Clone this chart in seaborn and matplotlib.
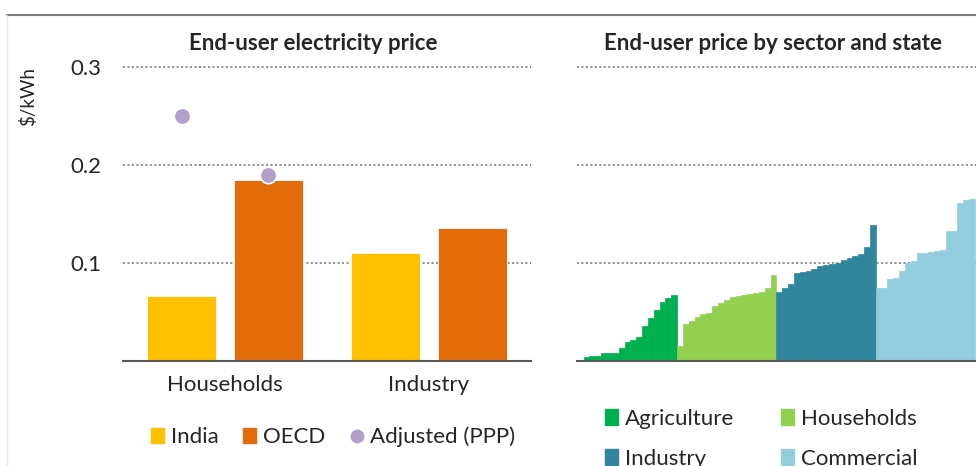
import numpy as np
import pandas as pd
import matplotlib.pyplot as plt
from matplotlib.lines import Line2D
from matplotlib.patches import Patch
import seaborn as sns

# ----------------------------
# DATA
# ----------------------------
sectors = ['Households', 'Industry']
india_price = [0.066, 0.110]
oecd_price = [0.185, 0.136]
ppp_households = [0.25, 0.19]  # India, OECD - households only
y_ticks = [0.1, 0.2, 0.3]

# end-user price by state, sorted within each sector
agriculture = [0.001, 0.004, 0.005, 0.005, 0.008, 0.008, 0.008, 0.013, 0.019,
               0.021, 0.024, 0.036, 0.044, 0.052, 0.060, 0.064, 0.067]
households = [0.015, 0.038, 0.041, 0.045, 0.048, 0.049, 0.056, 0.059, 0.062,
              0.065, 0.066, 0.067, 0.068, 0.069, 0.070, 0.075, 0.088]
industry = [0.070, 0.075, 0.079, 0.090, 0.091, 0.092, 0.094, 0.097, 0.098,
            0.099, 0.100, 0.103, 0.105, 0.107, 0.109, 0.116, 0.139]
commercial = [0.075, 0.075, 0.084, 0.085, 0.092, 0.100, 0.102, 0.110, 0.110,
              0.111, 0.112, 0.113, 0.133, 0.133, 0.161, 0.164, 0.165]
state_sectors = ['Agriculture', 'Households', 'Industry', 'Commercial']

# colours
c_india, c_oecd, c_ppp = '#FFC000', '#E36C0A', '#B1A0C7'
sector_colors = ['#00B050', '#92D050', '#31859C', '#93CDDD']
grid_kw = dict(color='#8c8c8c', linestyle=(0, (1, 1.3)), linewidth=1.4)

sns.set_theme(style='white')
plt.rcParams['font.family'] = ['Lato', 'DejaVu Sans']

fig = plt.figure(figsize=(9.76, 4.66), dpi=100)
ax1 = fig.add_axes([0.126, 0.2253, 0.418, 0.6414])
ax2 = fig.add_axes([0.591, 0.2253, 0.409, 0.6414])

# ----------------------------
# LEFT: India vs OECD
# ----------------------------
left_df = pd.DataFrame({
    'sector': sectors * 2,
    'region': ['India'] * len(sectors) + ['OECD'] * len(sectors),
    'price': india_price + oecd_price,
})
sns.barplot(data=left_df, x='sector', y='price', hue='region',
            palette=[c_india, c_oecd], saturation=1, width=0.852, gap=0.2,
            edgecolor='white', linewidth=0.6, legend=False, ax=ax1)

# PPP dots sit on the households bars
x_ppp = [c.patches[0].get_x() + c.patches[0].get_width() / 2 for c in ax1.containers]
sns.scatterplot(x=x_ppp, y=ppp_households, s=140, color=c_ppp,
                edgecolor='white', linewidth=1.2, zorder=5, ax=ax1)

ax1.set_xlim(-0.5, 1.5)
ax1.set_ylim(0, 0.305)
ax1.set_yticks(y_ticks)
ax1.grid(axis='y', **grid_kw)
ax1.set_axisbelow(True)
ax1.tick_params(axis='y', length=0, pad=15.5, labelsize=16)
ax1.tick_params(axis='x', length=0, pad=10, labelsize=16)
ax1.set_xlabel('')
ax1.set_ylabel('\\$/kWh', fontsize=13.5)
ax1.yaxis.set_label_coords(-0.21, 0.886)

# ----------------------------
# RIGHT: by sector and state
# ----------------------------
state_df = pd.DataFrame({
    'sector': np.repeat(state_sectors, [len(agriculture), len(households),
                                        len(industry), len(commercial)]),
    'price': agriculture + households + industry + commercial,
})
state_df['rank'] = np.arange(len(state_df))
sns.barplot(data=state_df, x='rank', y='price', hue='sector', palette=sector_colors,
            saturation=1, dodge=False, width=1, native_scale=True,
            legend=False, ax=ax2)
for p in ax2.patches:
    p.set_edgecolor(p.get_facecolor())
    p.set_linewidth(0.5)

ax2.set_xlim(-0.67, len(state_df) - 0.33)
ax2.set_ylim(0, 0.305)
ax2.set_yticks(y_ticks)
ax2.set_yticklabels([])
ax2.set_xticks([])
ax2.grid(axis='y', **grid_kw)
ax2.set_axisbelow(True)
ax2.tick_params(length=0)
ax2.set_xlabel('')
ax2.set_ylabel('')

for ax in (ax1, ax2):
    for side in ('top', 'right', 'left'):
        ax.spines[side].set_visible(False)
    ax.spines['bottom'].set_color('#595959')
    ax.spines['bottom'].set_linewidth(1.5)

# titles
fig.text(313.5 / 976, 1 - 43 / 466, 'End-user electricity price', ha='center',
         va='center', fontsize=16, fontweight='bold')
fig.text(772.5 / 976, 1 - 43 / 466, 'End-user price by sector and state', ha='center',
         va='center', fontsize=16, fontweight='bold')

# legends
left_handles = [Patch(color=c_india, label='India'),
                Patch(color=c_oecd, label='OECD'),
                Line2D([], [], marker='o', ls='', color=c_ppp, markersize=9,
                       label='Adjusted (PPP)')]
fig.legend(handles=left_handles, loc='center', ncol=3, frameon=False,
           bbox_to_anchor=(333 / 976, 1 - 437 / 466), fontsize=16,
           handlelength=0.6, handleheight=0.7, handletextpad=0.3,
           columnspacing=1.1)

right_handles = [Patch(color=sector_colors[i], label=state_sectors[i]) for i in (0, 2, 1, 3)]
fig.legend(handles=right_handles, loc='center', ncol=2, frameon=False,
           bbox_to_anchor=(761 / 976, 1 - 439 / 466), fontsize=16,
           handlelength=0.6, handleheight=0.7, handletextpad=0.3,
           columnspacing=2.1, labelspacing=0.9)

# frame lines
fig.add_artist(Line2D([7 / 976, 1], [1 - 15 / 466] * 2, color='#7f7f7f', lw=1.5))
fig.add_artist(Line2D([7 / 976] * 2, [0, 1 - 15 / 466], color='#e6e6e6', lw=1))

fig.savefig('out.png', dpi=100)
